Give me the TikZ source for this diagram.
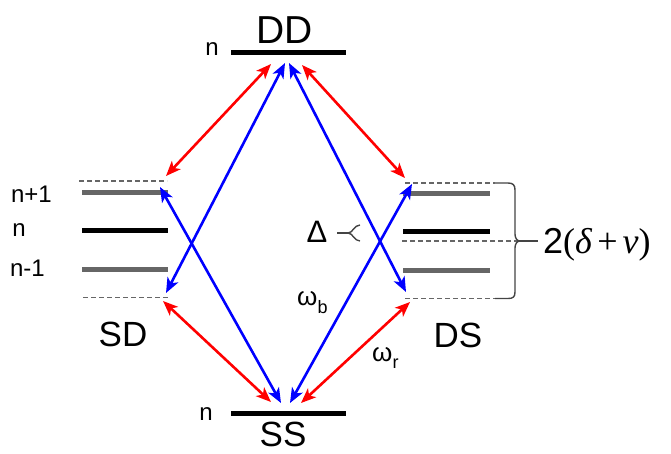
\documentclass[tikz,border=0pt]{standalone}
\usepackage{fontspec}
\setmainfont{Liberation Sans}
\newfontfamily\grserif{Liberation Serif}
\usetikzlibrary{arrows.meta}
\definecolor{lvgray}{HTML}{666666}
\definecolor{brgray}{HTML}{444444}
\tikzset{
  lvl/.style={line width=5pt},
  lvblack/.style={lvl, black},
  lvgrey/.style={lvl, lvgray},
  lvdash/.style={line width=1.8pt, lvgray, dash pattern=on 5pt off 3pt},
  tr/.style={line width=2.6pt, red, {Stealth[length=15pt,width=12pt,inset=4pt]}-{Stealth[length=15pt,width=12pt,inset=4pt]}},
  tb/.style={line width=2.6pt, blue, {Stealth[length=15pt,width=12pt,inset=4pt]}-{Stealth[length=15pt,width=12pt,inset=4pt]}},
  big/.style={inner sep=0pt, font=\fontsize{39}{44}\selectfont},
  mid/.style={inner sep=0pt, font=\fontsize{35}{40}\selectfont},
  small/.style={inner sep=0pt, font=\fontsize{24}{28}\selectfont},
  brace/.style={line width=1.4pt, brgray}
}
\begin{document}
\begin{tikzpicture}[x=1pt,y=-1pt]
\useasboundingbox (0,0) rectangle (671,453);
% levels DD and SS
\draw[lvblack] (231,52.5) coordinate (dda) -- (346,52.5) coordinate (ddb);
\draw[lvblack] (231,413) coordinate (ssa) -- (346,413) coordinate (ssb);
% SD levels
\draw[lvdash] (79,181) coordinate (sdt0) -- (167,181) coordinate (sdt);
\draw[lvgrey] (82,192) coordinate (sdp0) -- (168,192) coordinate (sdp);
\draw[lvblack] (82,230) coordinate (sdn0) -- (168,230) coordinate (sdn);
\draw[lvgrey] (82,269) coordinate (sdm0) -- (168,269) coordinate (sdm);
\draw[lvdash] (83,297.5) coordinate (sdb0) -- (168,297.5) coordinate (sdb);
% DS levels
\draw[lvdash] (405,183) coordinate (dst) -- (495,183) coordinate (dst1);
\draw[lvgrey] (403,193) coordinate (dsp) -- (490,193) coordinate (dsp1);
\draw[lvblack] (403,231.5) coordinate (dsn) -- (490,231.5) coordinate (dsn1);
\draw[lvdash] (402,241) coordinate (dsc) -- (519,241) coordinate (dsc1);
\draw[lvgrey] (403,270) coordinate (dsm) -- (490,270) coordinate (dsm1);
\draw[lvdash] (405,298.5) coordinate (dsb) -- (495,298.5) coordinate (dsb1);
% big brace
\coordinate (btip) at (520,241);
\coordinate (bend) at (538,241);
\draw[brace] (dst1) -- (508,183) .. controls (513,183) and (515,185) .. (515,190)
  -- (515,234) .. controls (515,238) and (517,241) .. (btip)
  .. controls (517,241) and (515,244) .. (515,248)
  -- (515,292) .. controls (515,297) and (513,298.5) .. (508,298.5) -- (dsb1);
\draw[brace] (btip) -- (bend);
% small brace near Delta
\coordinate (stip) at (348,233);
\coordinate (stail) at (337,233);
\draw[brace] (stail) -- (stip);
\draw[brace] (stip) .. controls (353,233) and (354,225) .. (360,225);
\draw[brace] (stip) .. controls (353,233) and (354,241) .. (360,241);
% arrow endpoints
\coordinate (ddr1) at (271,64);
\coordinate (ddb1) at (285,63);
\coordinate (ddb2) at (289,63);
\coordinate (ddr2) at (302,65);
\coordinate (ssr1) at (271,402);
\coordinate (ssb1) at (281,403);
\coordinate (ssb2) at (290,403);
\coordinate (ssr2) at (301,403);
\coordinate (sdtr) at (166,176);
\coordinate (sdtb) at (160,187);
\coordinate (sdbb) at (166,293);
\coordinate (sdbr) at (163,301);
\coordinate (dstr) at (405,178);
\coordinate (dstb) at (412,184);
\coordinate (dsbb) at (406,292);
\coordinate (dsbr) at (410,302);
% blue transitions
\draw[tb] (sdtb) -- (ssb1);
\draw[tb] (sdbb) -- (ddb1);
\draw[tb] (ddb2) -- (dsbb);
\draw[tb] (dstb) -- (ssb2);
% red transitions
\draw[tr] (ddr1) -- (sdtr);
\draw[tr] (ddr2) -- (dstr);
\draw[tr] (sdbr) -- (ssr1);
\draw[tr] (dsbr) -- (ssr2);
% labels
\node[big, anchor=base] (tDD) at (285,43) {DD};
\node[mid, anchor=base] (tSS) at (283,446) {SS};
\node[mid, anchor=base] (tSD) at (123,346) {SD};
\node[mid, anchor=base] (tDS) at (458,347) {DS};
\node[small, anchor=base] (nDD) at (212,55) {n};
\node[small, anchor=base] (nSS) at (206,420) {n};
\node[small, anchor=base east] (np) at (52,202) {n+1};
\node[small, anchor=base] (nn) at (19,236) {n};
\node[small, anchor=base east] (nm) at (45,276) {n-1};
\node[inner sep=0pt, anchor=base, font=\fontsize{31}{34}\selectfont] (Dl) at (317,242) {Δ};
\node[inner sep=0pt, anchor=base west, font=\fontsize{26}{29}\selectfont] (wb) at (297,305) {ω\raisebox{-8pt}{\fontsize{18}{20}\selectfont b}};
\node[inner sep=0pt, anchor=base west, font=\fontsize{26}{29}\selectfont] (wr) at (372,361) {ω\raisebox{-7pt}{\fontsize{18}{20}\selectfont r}};
\node[inner sep=0pt, anchor=base west, font=\fontsize{36}{40}\selectfont] (dn) at (543,253) {2{\grserif(\textit{δ}\hspace{5pt}+\hspace{5pt}\textit{ν})}};
\end{tikzpicture}
\end{document}
